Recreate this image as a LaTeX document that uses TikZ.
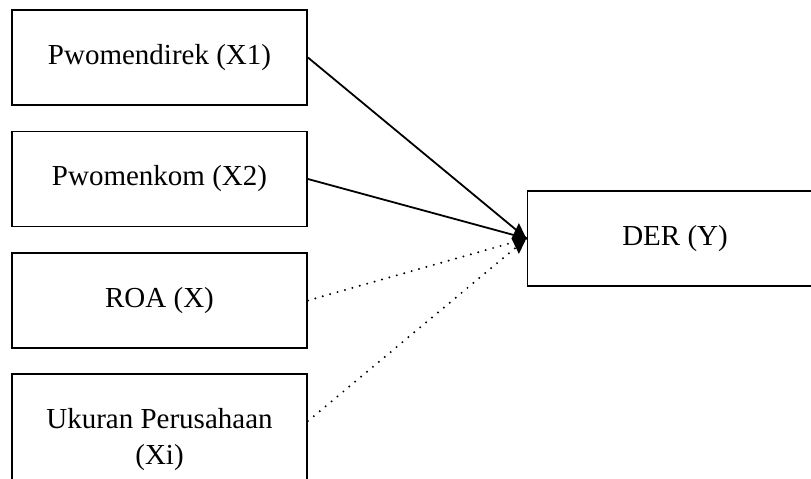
\documentclass[tikz,border=0pt]{standalone}
\usepackage{fontspec}
\setmainfont{Liberation Serif}
\usetikzlibrary{shapes.geometric,calc}
\begin{document}
\begin{tikzpicture}[x=1pt,y=-1pt,
  box/.style={draw,line width=1.8pt,rectangle,minimum width=295pt,minimum height=95pt,inner sep=0pt,align=center,font=\fontsize{29}{36}\selectfont},
  solidlink/.style={line width=1.8pt},
  dotlink/.style={line width=2.2pt,line cap=round,dash pattern=on 0pt off 7.7pt}]
\clip (0,0) rectangle (811,479);
\fill[white] (0,0) rectangle (811,479);
\node[box] (b1) at (159.5,57.5) {Pwomendirek (X1)};
\node[box] (b2) at (159.5,179) {Pwomenkom (X2)};
\node[box] (b3) at (159.5,300.5) {ROA (X)};
\node[box,minimum height=132pt] (b4) at (159.5,440) {Ukuran Perusahaan\\(Xi)};
\node[box] (der) at (675,238.5) {DER (Y)};
\coordinate (s4) at ($(b4.north east)+(0,48)$);
\draw[solidlink] (b1.east) -- (der.west);
\draw[solidlink] (b2.east) -- (der.west);
\draw[dotlink] (b3.east) -- (der.west);
\draw[dotlink] (s4) -- (der.west);
\node[diamond,fill=black,inner sep=0pt,minimum width=15pt,minimum height=31pt,anchor=east] (tip) at (der.west) {};
\end{tikzpicture}
\end{document}
